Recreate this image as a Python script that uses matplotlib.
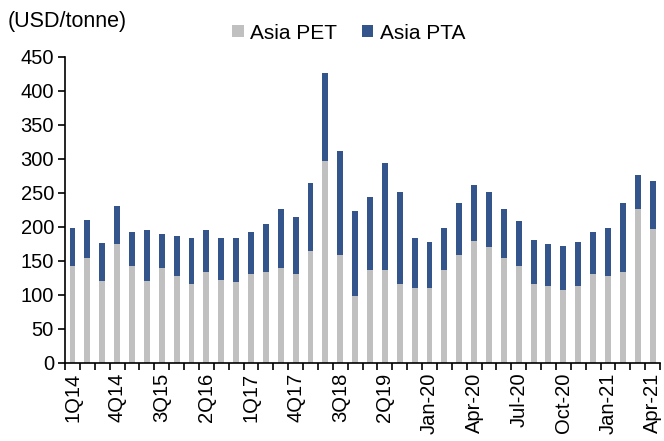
import matplotlib
matplotlib.use('Agg')
import matplotlib.pyplot as plt
import numpy as np

plt.rcParams['font.family'] = ['Liberation Sans', 'DejaVu Sans']

# periods: quarterly 1Q14-4Q19, then monthly Jan-20 to Apr-21
periods = ['1Q14', '2Q14', '3Q14', '4Q14', '1Q15', '2Q15', '3Q15', '4Q15',
           '1Q16', '2Q16', '3Q16', '4Q16', '1Q17', '2Q17', '3Q17', '4Q17',
           '1Q18', '2Q18', '3Q18', '4Q18', '1Q19', '2Q19', '3Q19', '4Q19',
           'Jan-20', 'Feb-20', 'Mar-20', 'Apr-20', 'May-20', 'Jun-20',
           'Jul-20', 'Aug-20', 'Sep-20', 'Oct-20', 'Nov-20', 'Dec-20',
           'Jan-21', 'Feb-21', 'Mar-21', 'Apr-21']

# spreads in USD/tonne
pet = [143, 154, 120, 175, 143, 120, 139, 128, 116, 134, 122, 119,
       131, 134, 140, 131, 164, 297, 158, 99, 137, 137, 116, 110,
       110, 137, 158, 179, 170, 155, 143, 116, 113, 107, 113, 131,
       128, 134, 226, 197]
total = [198, 210, 177, 231, 192, 195, 189, 187, 184, 196, 184, 184,
         193, 205, 226, 214, 264, 426, 311, 223, 244, 294, 252, 184,
         178, 199, 235, 261, 252, 226, 208, 181, 175, 172, 178, 193,
         199, 235, 276, 267]
pta = [t - p for t, p in zip(total, pet)]

gray = '#c0c0c0'
navy = '#34558b'

fig = plt.figure(figsize=(6.64, 4.41), dpi=100)
ax = fig.add_axes([0.098, 0.177, 0.896, 0.694])

x = np.arange(len(periods))
ax.bar(x, pet, width=0.4, color=gray, label='Asia PET')
ax.bar(x, pta, width=0.4, bottom=pet, color=navy, label='Asia PTA')

ax.set_xlim(-0.5, len(periods) - 0.5)
ax.set_ylim(0, 450)
ax.set_yticks(range(0, 451, 50))
ax.tick_params(axis='y', labelsize=14.5, direction='out', length=5, width=1.2, pad=3)

# category boundary ticks, labels every third bar
ax.set_xticks(np.arange(-0.5, len(periods), 1), minor=True)
ax.set_xticks(x[::3])
ax.set_xticklabels(periods[::3], rotation=90, fontsize=14.5)
ax.tick_params(axis='x', which='major', length=0, pad=7)
ax.tick_params(axis='x', which='minor', direction='out', length=5, width=1.2)

for s in ['top', 'right']:
    ax.spines[s].set_visible(False)
for s in ['left', 'bottom']:
    ax.spines[s].set_linewidth(1.2)

fig.text(0.012, 0.951, '(USD/tonne)', fontsize=15.5, va='center')
fig.legend(loc='center', bbox_to_anchor=(0.525, 0.925), ncol=2, frameon=False,
           fontsize=15, handlelength=0.55, handleheight=0.55, handletextpad=0.3,
           columnspacing=1.2)

fig.savefig('out.png', dpi=100)
